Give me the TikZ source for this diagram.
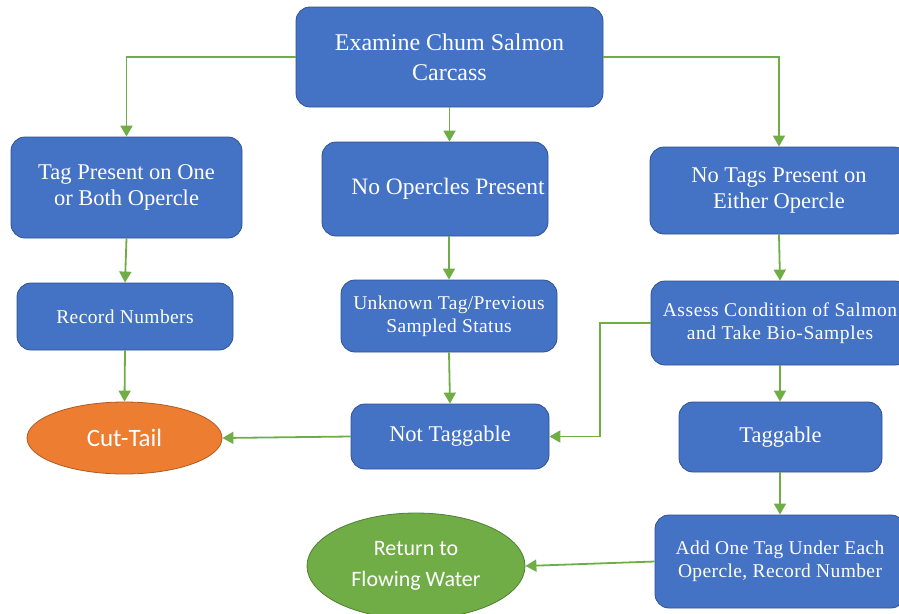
\documentclass[tikz,border=0pt]{standalone}
\usepackage{fontspec}
\setmainfont{Liberation Serif}
\newfontfamily\timesf{Liberation Serif}
\newfontfamily\timeswide{Liberation Serif}[LetterSpace=2]
\newfontfamily\timeswider{Liberation Serif}[LetterSpace=3]
\newfontfamily\calib{Carlito}
\usetikzlibrary{arrows.meta,shapes.geometric}
\definecolor{boxblue}{HTML}{4472C4}
\definecolor{boxedge}{HTML}{2F528F}
\definecolor{linkgreen}{HTML}{70AD47}
\definecolor{tailorange}{HTML}{ED7D31}
\definecolor{tailedge}{HTML}{AE5A21}
\definecolor{wateredge}{HTML}{507E32}

\begin{document}
\begin{tikzpicture}[
x=1pt,y=-1pt,
every node/.style={align=center,text=white,inner sep=0pt},
box/.style={rectangle,rounded corners=14pt,draw=boxedge,fill=boxblue,line width=0.8pt},
oval/.style={ellipse,line width=0.8pt},
link/.style={draw=linkgreen,line width=1.8pt,-{Triangle[length=11pt,width=12pt]}},
bigtext/.style={font=\timesf\fontsize{24}{30}\selectfont},
midtext/.style={font=\timesf\fontsize{22.5}{26}\selectfont},
smalltext/.style={font=\timeswide\fontsize{19.5}{23}\selectfont}
]
\useasboundingbox (0,0) rectangle (899,613);

\node[box,bigtext,minimum width=307pt,minimum height=100pt] (exam) at (449.5,57) {Examine Chum Salmon\\Carcass};
\node[box,midtext,minimum width=231pt,minimum height=101pt] (tagp) at (126.5,187.5) {Tag Present on One\\or Both Opercle};
\node[box,font=\timesf\fontsize{23.5}{28}\selectfont,minimum width=226pt,minimum height=94pt] (noop) at (435,189) {\hspace*{26pt}No Opercles Present};
\node[box,midtext,minimum width=258pt,minimum height=87pt] (notg) at (779,190.5) {No Tags Present on\\Either Opercle};
\node[box,smalltext,minimum width=216pt,minimum height=67pt] (recn) at (125,316.5) {Record Numbers};
\node[box,smalltext,minimum width=216pt,minimum height=72pt] (unkn) at (449,316) {Unknown Tag/Previous\\Sampled Status};
\node[box,font=\timeswider\fontsize{19.5}{23}\selectfont,minimum width=258pt,minimum height=84pt] (asse) at (780,323) {Assess Condition of Salmon\\and Take Bio-Samples};
\node[box,midtext,minimum width=198pt,minimum height=65pt] (nott) at (450,436.5) {Not Taggable};
\node[box,midtext,minimum width=203pt,minimum height=70pt] (tagg) at (780.5,437) {Taggable};
\node[box,smalltext,minimum width=250pt,minimum height=93pt] (addt) at (780,561.5) {Add One Tag Under Each\\Opercle, Record Number};
\node[oval,draw=tailedge,fill=tailorange,font=\calib\fontsize{25}{31}\selectfont,minimum width=195pt,minimum height=72pt] (cutt) at (124.5,438) {Cut-Tail};
\node[oval,draw=wateredge,fill=linkgreen,font=\calib\fontsize{22}{31}\selectfont,minimum width=218pt,minimum height=106pt] (retn) at (416,566) {Return to\\Flowing Water};

\draw[link] (exam.west) -| (tagp.north);
\draw[link] (exam.south) -- (exam.south |- noop.north);
\draw[link] (exam.east) -| (notg.north);
\draw[link] (tagp.south) -- (recn.north);
\draw[link] (recn.south) -- (cutt.north);
\draw[link] (unkn.south |- noop.south) -- (unkn.north);
\draw[link] (unkn.south) -- (nott.north);
\draw[link] (notg.south) -- (asse.north);
\draw[link] (asse.west) -- ++(-51,0) |- (nott.east);
\draw[link] (asse.south) -- (tagg.north -| asse.south);
\draw[link] (nott.west) -- (cutt.east);
\draw[link] (tagg.south -| addt.north) -- (addt.north);
\draw[link] (addt.west) -- (retn.east);
\end{tikzpicture}
\end{document}
